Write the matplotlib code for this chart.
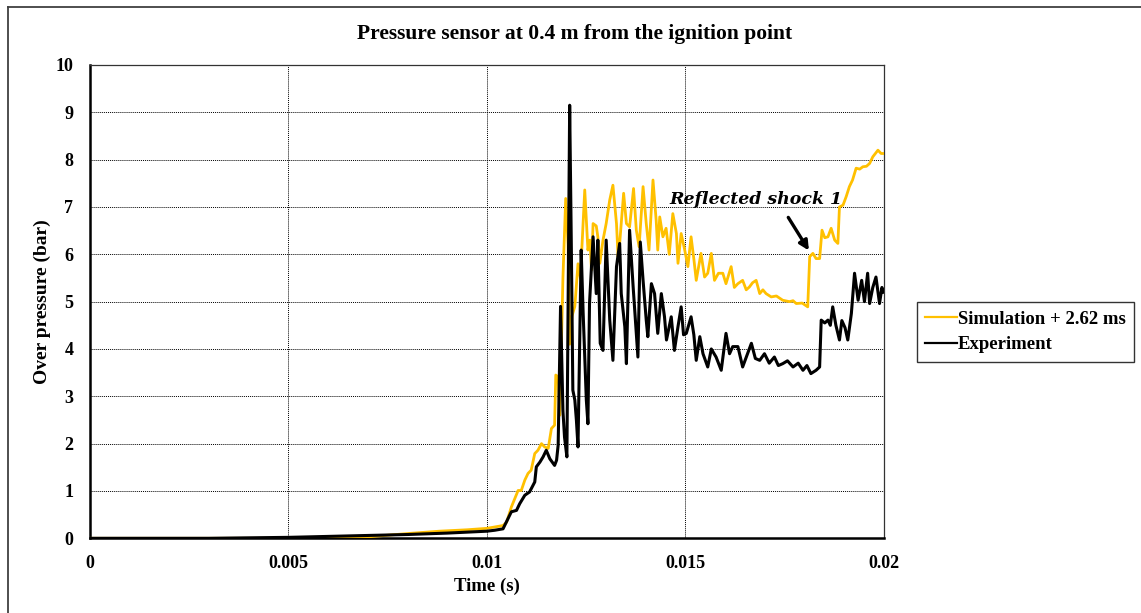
import numpy as np
import matplotlib
matplotlib.use("Agg")
import matplotlib.pyplot as plt
from matplotlib.lines import Line2D
from matplotlib.ticker import FuncFormatter, MultipleLocator

# simulation trace (already shifted by 2.62 ms), time in ms, over pressure in bar
sim_t = [0, 5.5, 6.5, 7.0, 8.0, 8.8, 9.5, 10.0, 10.41, 10.5, 10.62, 10.79, 10.87, 10.96,
         11.04, 11.12, 11.21, 11.29, 11.38, 11.46, 11.55, 11.63, 11.71, 11.74, 11.80, 11.84,
         11.92, 11.99, 12.05, 12.09, 12.15, 12.22, 12.30, 12.36, 12.47, 12.55, 12.60, 12.64,
         12.68, 12.76, 12.80, 12.85, 12.93, 13.01, 13.10, 13.18, 13.27, 13.31, 13.35, 13.45,
         13.52, 13.60, 13.70, 13.77, 13.84, 13.94, 14.02, 14.09, 14.19, 14.27, 14.31, 14.36,
         14.44, 14.52, 14.60, 14.69, 14.78, 14.82, 14.90, 14.99, 15.07, 15.15, 15.22, 15.28,
         15.40, 15.49, 15.57, 15.66, 15.74, 15.84, 15.95, 16.03, 16.16, 16.24, 16.33, 16.45,
         16.54, 16.62, 16.70, 16.79, 16.88, 16.96, 17.04, 17.17, 17.30, 17.46, 17.63, 17.72,
         17.80, 17.95, 18.09, 18.14, 18.22, 18.30, 18.39, 18.45, 18.52, 18.60, 18.68, 18.77,
         18.85, 18.89, 18.98, 19.06, 19.14, 19.22, 19.31, 19.40, 19.48, 19.57, 19.65, 19.73,
         19.86, 19.94, 20.0]
sim_p = [0, 0, 0.01, 0.03, 0.1, 0.15, 0.18, 0.21, 0.27, 0.34, 0.66, 1.01, 1.01, 1.23,
         1.37, 1.44, 1.79, 1.86, 2.0, 1.93, 1.90, 2.32, 2.39, 3.45, 3.41, 2.6,
         5.5, 7.18, 6.2, 4.1, 4.7, 4.9, 5.8, 5.5, 7.36, 6.09, 6.3, 5.67,
         6.65, 6.6, 6.37, 5.81, 6.3, 6.65, 7.15, 7.46, 6.65, 5.95, 6.23, 7.29,
         6.65, 6.58, 7.39, 6.51, 6.16, 7.43, 6.65, 6.09, 7.57, 6.72, 6.09, 6.79,
         6.37, 6.55, 6.0, 6.86, 6.44, 5.81, 6.44, 6.09, 5.74, 6.37, 5.9, 5.45,
         6.02, 5.52, 5.6, 6.02, 5.45, 5.6, 5.60, 5.38, 5.74, 5.3, 5.38, 5.45,
         5.25, 5.31, 5.4, 5.45, 5.17, 5.25, 5.17, 5.10, 5.12, 5.03, 5.0, 5.02,
         4.96, 4.97, 4.89, 5.95, 6.02, 5.91, 5.91, 6.51, 6.35, 6.37, 6.55, 6.3,
         6.23, 7.0, 7.04, 7.22, 7.43, 7.57, 7.82, 7.80, 7.85, 7.86, 7.92, 8.06,
         8.20, 8.13, 8.13]

# measured trace
exp_t = [0, 3.0, 4.0, 5.0, 6.0, 6.5, 7.0, 8.0, 9.0, 9.5, 10.0, 10.2, 10.41, 10.62, 10.75,
         10.83, 10.96, 11.08, 11.21, 11.25, 11.34, 11.42, 11.50, 11.59, 11.71, 11.76, 11.80,
         11.86, 11.92, 11.96, 12.02, 12.09, 12.13, 12.17, 12.22, 12.26, 12.30, 12.38, 12.43,
         12.51, 12.55, 12.59, 12.68, 12.76, 12.80, 12.86, 12.93, 13.01, 13.10, 13.18, 13.27,
         13.35, 13.39, 13.48, 13.52, 13.60, 13.69, 13.77, 13.81, 13.87, 13.94, 14.02, 14.06,
         14.15, 14.23, 14.31, 14.40, 14.48, 14.53, 14.65, 14.73, 14.82, 14.90, 14.96, 15.03,
         15.15, 15.22, 15.28, 15.37, 15.45, 15.57, 15.66, 15.78, 15.91, 16.03, 16.12, 16.20,
         16.33, 16.45, 16.55, 16.67, 16.77, 16.88, 17.00, 17.12, 17.25, 17.35, 17.46, 17.58,
         17.72, 17.85, 17.97, 18.07, 18.17, 18.30, 18.39, 18.43, 18.52, 18.60, 18.66, 18.72,
         18.80, 18.89, 18.95, 19.03, 19.10, 19.19, 19.27, 19.36, 19.45, 19.52, 19.60, 19.65,
         19.73, 19.81, 19.90, 19.96, 20.0]
exp_p = [0, 0, 0.01, 0.02, 0.04, 0.05, 0.06, 0.08, 0.11, 0.13, 0.15, 0.17, 0.2, 0.56, 0.59,
         0.73, 0.91, 0.98, 1.19, 1.51, 1.61, 1.72, 1.86, 1.68, 1.54, 1.65, 1.97,
         4.9, 2.7, 2.14, 1.72, 9.15, 6.3, 3.13, 2.92, 2.49, 1.93, 6.09, 4.75,
         2.92, 2.42, 4.96, 6.37, 5.17, 6.30, 4.12, 3.97, 6.30, 4.61, 3.76, 5.74,
         6.23, 5.17, 4.47, 3.69, 6.51, 5.31, 4.33, 3.83, 6.26, 5.45, 4.61, 4.26,
         5.38, 5.17, 4.33, 5.17, 4.68, 4.19, 4.68, 3.97, 4.47, 4.89, 4.3, 4.33,
         4.68, 4.3, 3.76, 4.26, 3.9, 3.62, 4.0, 3.83, 3.55, 4.33, 3.9, 4.05,
         4.05, 3.62, 3.85, 4.12, 3.8, 3.76, 3.90, 3.7, 3.83, 3.65, 3.69, 3.75,
         3.62, 3.7, 3.55, 3.65, 3.48, 3.55, 3.62, 4.61, 4.55, 4.61, 4.5, 4.89,
         4.5, 4.19, 4.6, 4.45, 4.19, 4.75, 5.60, 5.03, 5.45, 5.0, 5.60, 4.96,
         5.3, 5.52, 4.96, 5.3, 5.2]

sim_label = "Simulation + 2.62 ms"
exp_label = "Experiment"
gold = "#FFC000"

plt.rcParams['font.family'] = ['Liberation Serif', 'DejaVu Serif']
plt.rcParams['font.weight'] = 'bold'

fig = plt.figure(figsize=(11.41, 6.13), dpi=100)
ax = fig.add_axes([90 / 1141, 1 - 538.3 / 613, 793.5 / 1141, 473.3 / 613])

ax.plot(np.array(sim_t) / 1000, sim_p, color=gold, lw=2.0, label=sim_label, zorder=3)
ax.plot(np.array(exp_t) / 1000, exp_p, color="black", lw=2.2, label=exp_label, zorder=4)

ax.set_xlim(0, 0.02)
ax.set_ylim(0, 10)
ax.xaxis.set_major_locator(MultipleLocator(0.005))
ax.yaxis.set_major_locator(MultipleLocator(1))
ax.xaxis.set_major_formatter(FuncFormatter(lambda v, p: f"{v:g}"))
ax.grid(True, color="black", ls=(0, (1, 1)), lw=0.7)
ax.set_axisbelow(True)
ax.tick_params(length=0, labelsize=13)
ax.tick_params(axis='y', pad=12)
ax.tick_params(axis='x', pad=12)

for side in ("left", "bottom"):
    ax.spines[side].set_linewidth(1.8)
for side in ("top", "right"):
    ax.spines[side].set_linewidth(0.9)
    ax.spines[side].set_color("#333333")

ax.set_xlabel("Time (s)", fontsize=13.5, fontweight='bold', labelpad=4)
ax.set_ylabel("Over pressure (bar)", fontsize=14, fontweight='bold', labelpad=3)
fig.text(575 / 1141, 1 - 34 / 613, "Pressure sensor at 0.4 m from the ignition point",
         fontsize=15.5, fontweight='bold', ha='center', va='center')

# label and arrow for the first reflected shock on the simulation trace
ax.text(0.01679, 7.15, "Reflected shock 1", fontsize=12.5, fontstyle='italic',
        fontweight='bold', family=['DejaVu Serif'], ha='center', va='center')
ax.annotate("", xy=(0.01812, 6.08), xytext=(0.0176, 6.78),
            arrowprops=dict(arrowstyle="-|>", color="black", lw=2.4,
                            mutation_scale=14, shrinkA=0, shrinkB=0))

leg = ax.legend(loc="center left", bbox_to_anchor=(1.042, 0.436), fontsize=13.5,
                frameon=True, fancybox=False, handlelength=1.7, handletextpad=0.05,
                borderpad=0.45, labelspacing=0.45, borderaxespad=0)
leg.get_frame().set_edgecolor("black")
leg.get_frame().set_linewidth(1.0)
for line in leg.get_lines():
    line.set_linewidth(1.6)

# chart border, visible along the top and left edges
fig.add_artist(Line2D([8 / 1141, 8 / 1141], [0, 1 - 7 / 613], color="#404040", lw=1.3,
                      transform=fig.transFigure))
fig.add_artist(Line2D([8 / 1141, 1], [1 - 7 / 613, 1 - 7 / 613], color="#404040", lw=1.3,
                      transform=fig.transFigure))

fig.savefig("out.png", dpi=100)
